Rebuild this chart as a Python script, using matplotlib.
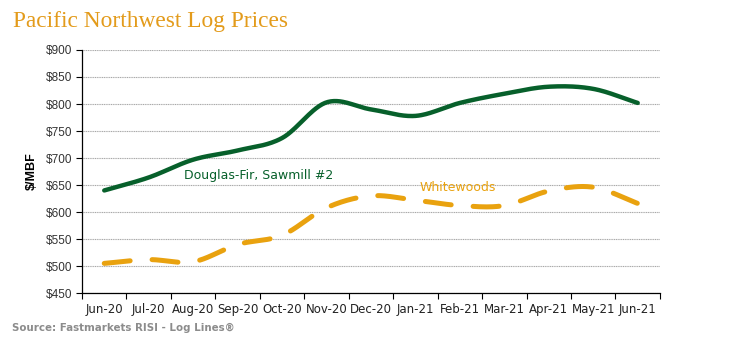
import numpy as np
import matplotlib
matplotlib.use("Agg")
import matplotlib.pyplot as plt
from matplotlib.ticker import FixedLocator, FuncFormatter

months = ["Jun-20", "Jul-20", "Aug-20", "Sep-20", "Oct-20", "Nov-20", "Dec-20",
          "Jan-21", "Feb-21", "Mar-21", "Apr-21", "May-21", "Jun-21"]
douglas_fir = [640, 664, 697, 714, 737, 803, 790, 778, 802, 819, 832, 828, 802]
whitewoods = [505, 512, 508, 540, 557, 608, 630, 622, 612, 612, 639, 646, 616]
y_ticks = [450, 500, 550, 600, 650, 700, 750, 800, 850, 900]

GREEN = "#07602B"
ORANGE = "#E9A20F"


def smooth(xs, ys, n=30):
    # Excel-style smoothed line (Catmull-Rom through the points)
    xs = np.asarray(xs, float)
    ys = np.asarray(ys, float)
    px = np.concatenate([[2 * xs[0] - xs[1]], xs, [2 * xs[-1] - xs[-2]]])
    py = np.concatenate([[2 * ys[0] - ys[1]], ys, [2 * ys[-1] - ys[-2]]])
    ox, oy = [], []
    t = np.linspace(0, 1, n, endpoint=False)
    for i in range(1, len(px) - 2):
        for arr, out in ((px, ox), (py, oy)):
            p0, p1, p2, p3 = arr[i - 1], arr[i], arr[i + 1], arr[i + 2]
            out.extend(0.5 * (2 * p1 + (-p0 + p2) * t
                              + (2 * p0 - 5 * p1 + 4 * p2 - p3) * t ** 2
                              + (-p0 + 3 * p1 - 3 * p2 + p3) * t ** 3))
    ox.append(xs[-1])
    oy.append(ys[-1])
    return np.array(ox), np.array(oy)


def main():
    fig = plt.figure(figsize=(7.39, 3.57), dpi=100)
    ax = fig.add_axes([0.111, 0.179, 0.782, 0.681])
    x = np.arange(len(months))

    sx, sy = smooth(x, douglas_fir)
    ax.plot(sx, sy, color=GREEN, linewidth=3.2, solid_capstyle="round", zorder=3)
    sx, sy = smooth(x, whitewoods)
    ax.plot(sx, sy, color=ORANGE, linewidth=3.6, dashes=(5.2, 4.4),
            dash_capstyle="round", zorder=3)

    ax.set_xlim(-0.5, len(months) - 0.5)
    ax.set_ylim(450, 900)
    ax.yaxis.set_major_locator(FixedLocator(y_ticks))
    ax.yaxis.set_major_formatter(FuncFormatter(lambda v, p: "${:.0f}".format(v)))
    ax.set_xticks(x)
    ax.set_xticklabels(months, family=["Liberation Sans Narrow", "DejaVu Sans"], fontsize=8.5)
    ax.set_xticks(np.arange(-0.5, len(months)), minor=True)
    ax.tick_params(axis="x", which="major", length=0, pad=7)
    ax.tick_params(axis="x", which="minor", length=4, width=0.8, direction="out")
    ax.tick_params(axis="y", length=4, width=0.8, labelsize=8.5, pad=3)
    for lab in ax.get_yticklabels():
        lab.set_family(["Liberation Sans", "DejaVu Sans"])
        lab.set_color("#333333")
    for lab in ax.get_xticklabels():
        lab.set_color("#222222")

    ax.grid(axis="y", color="#A8A8A8", linewidth=0.8, linestyle=(0, (1, 0.6)))
    ax.set_axisbelow(True)
    ax.spines["right"].set_color("none")
    ax.spines["top"].set_color("none")
    ax.spines["left"].set_linewidth(0.9)
    ax.spines["bottom"].set_linewidth(0.9)

    ax.set_ylabel("$/MBF", fontsize=9, fontweight="bold",
                  family=["Liberation Sans", "DejaVu Sans"], labelpad=6)

    ax.text(1.8, 668, "Douglas-Fir, Sawmill #2", color=GREEN, fontsize=9,
            family=["Liberation Sans Narrow", "DejaVu Sans"], ha="left", va="center")
    ax.text(7.1, 645, "Whitewoods", color=ORANGE, fontsize=9,
            family=["Liberation Sans Narrow", "DejaVu Sans"], ha="left", va="center")

    fig.text(0.018, 0.94, "Pacific Northwest Log Prices", color="#E39B1B", fontsize=16.8,
             family=["Liberation Serif", "DejaVu Serif"], ha="left", va="center")
    fig.text(0.016, 0.08, "Source: Fastmarkets RISI - Log Lines\u00ae", color="#8C8C8C",
             fontsize=7.4, fontweight="bold",
             family=["Liberation Sans Narrow", "DejaVu Sans"], ha="left", va="center")

    fig.savefig("out.png", dpi=100, facecolor="white")


if __name__ == '__main__':
    main()
